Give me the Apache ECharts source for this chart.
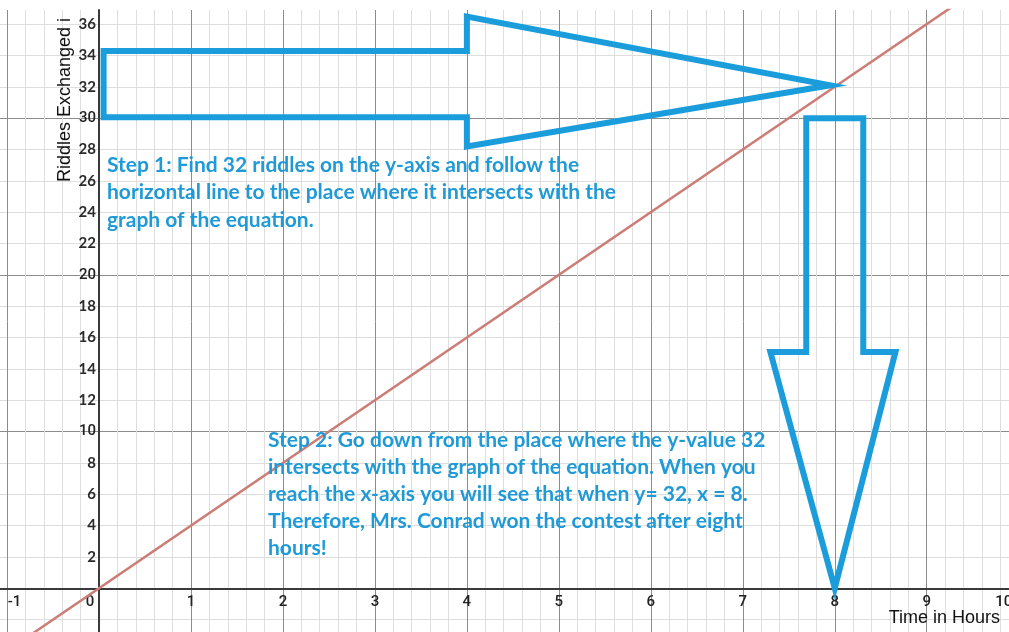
<!DOCTYPE html>
<html>
<head>
<meta charset="utf-8">
<script src="https://cdn.jsdelivr.net/npm/echarts@6/dist/echarts.min.js"></script>
<style>
  html, body { margin: 0; padding: 0; background: #ffffff; }
  #chart { width: 1009px; height: 632px; }
</style>
</head>
<body>
<div id="chart"></div>
<script>
// Graph of y = 4x: riddles exchanged against time in hours
const lineX = [-1.5, 9.5];
const lineY = [-6, 38];

// Step 1 arrow (pointing right along y = 32), outline vertices
const arrowRightX = [0.05, 0.05, 4.0, 4.0, 7.95, 4.0, 4.0, 0.05, 0.05];
const arrowRightY = [32.16, 34.28, 34.28, 36.48, 32.1, 28.2, 30.05, 30.05, 32.16];

// Step 2 arrow (pointing down to x = 8), outline vertices
const arrowDownX = [8.0, 8.31, 8.31, 8.66, 8.0, 7.30, 7.69, 7.69, 8.0];
const arrowDownY = [30.0, 30.0, 15.08, 15.08, 0.0, 15.08, 15.08, 30.0, 30.0];

// Tick labels
const xTickLabels = [-1, 0, 1, 2, 3, 4, 5, 6, 7, 8, 9, 10];
const yTickLabels = [2, 4, 6, 8, 10, 12, 14, 16, 18, 20, 22, 24, 26, 28, 30, 32, 34, 36];

// Axis titles and notes
const xTitle = 'Time in Hours';
const yTitle = 'Riddles Exchanged i';
const step1Lines = [
  'Step 1: Find 32 riddles on the y-axis and follow the',
  'horizontal line to the place where it intersects with the',
  'graph of the equation.'
];
const step2Lines = [
  'Step 2: Go down from the place where the y-value 32',
  'intersects with the graph of the equation. When you',
  'reach the x-axis you will see that when y= 32, x = 8.',
  'Therefore, Mrs. Conrad won the contest after eight',
  'hours!'
];

const zip = (xs, ys) => xs.map((x, i) => [x, ys[i]]);

const BLUE = '#1b9ddb';
const TEXT_BLUE = '#1f9ad7';
const MAJOR = '#8c8c8c';
const MINOR = '#dedede';
const LABEL = '#222222';

// Plot box: x from -2 to 10, y from -10 to 36.9; origin lands at (99, 588.3)
const GRID_LEFT = -84.94;
const GRID_BOTTOM = -113;
const ORIGIN_SHIFT_X = 99 - GRID_LEFT;              // y-axis moved right onto x = 0
const ORIGIN_SHIFT_Y = (632 - GRID_BOTTOM) - 588.3; // x-axis moved up onto y = 0

const plain = { fontFamily: 'Roboto', fontWeight: 500, fontSize: 15, color: LABEL };

const chart = echarts.init(document.getElementById('chart'), null, { renderer: 'canvas' });

chart.setOption({
  backgroundColor: '#ffffff',
  animation: false,
  grid: {
    left: GRID_LEFT, right: -9.7, top: 10, bottom: GRID_BOTTOM,
    containLabel: false,
    outerBoundsMode: 'none'
  },
  xAxis: {
    type: 'value',
    position: 'bottom',
    offset: -ORIGIN_SHIFT_Y,
    min: -2,
    max: 10,
    interval: 1,
    name: xTitle,
    nameLocation: 'end',
    nameGap: -18.7,
    nameTextStyle: {
      fontFamily: 'Liberation Sans',
      fontSize: 18,
      color: '#111',
      align: 'right',
      verticalAlign: 'top',
      padding: [21, 0, 0, 0]
    },
    axisLine: { onZero: false, lineStyle: { color: '#3a3a3a', width: 2 } },
    axisTick: { show: false },
    splitLine: { show: true, lineStyle: { color: MAJOR, width: 1 } },
    minorTick: { show: false, splitNumber: 5 },
    minorSplitLine: { show: true, lineStyle: { color: MINOR, width: 1 } },
    axisLabel: {
      margin: 6,
      color: LABEL,
      formatter: function (v) {
        if (xTickLabels.indexOf(v) < 0) return '';
        if (v === 0) return '{z|0}';
        if (v === -1) return '{m|-1}';
        if (v === 10) return '{e|10}';
        return '{n|' + v + '}';
      },
      rich: {
        n: plain,
        z: Object.assign({}, plain, { padding: [0, 18, 0, 0] }),
        m: Object.assign({}, plain, { padding: [0, 0, 0, 15] }),
        e: Object.assign({}, plain, { padding: [0, 30, 0, 0] })
      }
    }
  },
  yAxis: {
    type: 'value',
    position: 'left',
    offset: -ORIGIN_SHIFT_X,
    min: -10,
    max: 36.9,
    interval: 2,
    axisLine: { onZero: false, lineStyle: { color: '#3a3a3a', width: 2 } },
    axisTick: { show: false },
    splitLine: {
      show: true,
      showMaxLine: false,
      lineStyle: { color: [MAJOR, MINOR, MINOR, MINOR, MINOR], width: 1 }
    },
    axisLabel: {
      margin: 3,
      color: LABEL,
      showMaxLabel: false,
      formatter: function (v) {
        if (yTickLabels.indexOf(v) < 0) return '';
        return v % 10 === 0 ? '{n|' + v + '}' : '{b|' + v + '}';
      },
      rich: {
        n: plain,
        b: { fontFamily: 'Lato', fontWeight: 'bold', fontSize: 15, color: '#2a2a2a' }
      }
    }
  },
  series: [
    {
      name: 'y = 4x',
      type: 'line',
      data: zip(lineX, lineY),
      symbol: 'none',
      z: 3,
      lineStyle: { color: '#cb7d76', width: 2.5 }
    },
    {
      name: 'Step 1 arrow',
      type: 'line',
      data: zip(arrowRightX, arrowRightY),
      symbol: 'none',
      z: 4,
      lineStyle: { color: BLUE, width: 6, join: 'miter', miterLimit: 10 }
    },
    {
      name: 'Step 2 arrow',
      type: 'line',
      data: zip(arrowDownX, arrowDownY),
      symbol: 'none',
      z: 4,
      lineStyle: { color: BLUE, width: 6, join: 'miter', miterLimit: 10 }
    }
  ],
  graphic: [
    {
      type: 'text',
      x: 65,
      y: 182,
      rotation: Math.PI / 2,
      z: 10,
      style: {
        text: yTitle,
        fontFamily: 'Liberation Sans',
        fontSize: 18,
        fill: '#111',
        textAlign: 'left',
        textVerticalAlign: 'middle'
      }
    },
    {
      type: 'text',
      x: 107,
      y: 151,
      z: 10,
      style: {
        text: step1Lines.join('\n'),
        fontFamily: 'Lato',
        fontWeight: 'bold',
        fontSize: 21,
        lineHeight: 27.5,
        fill: TEXT_BLUE
      }
    },
    {
      type: 'text',
      x: 268,
      y: 427,
      z: 10,
      style: {
        text: step2Lines.join('\n'),
        fontFamily: 'Lato',
        fontWeight: 'bold',
        fontSize: 21,
        lineHeight: 27,
        fill: TEXT_BLUE
      }
    }
  ]
});
</script>
</body>
</html>
